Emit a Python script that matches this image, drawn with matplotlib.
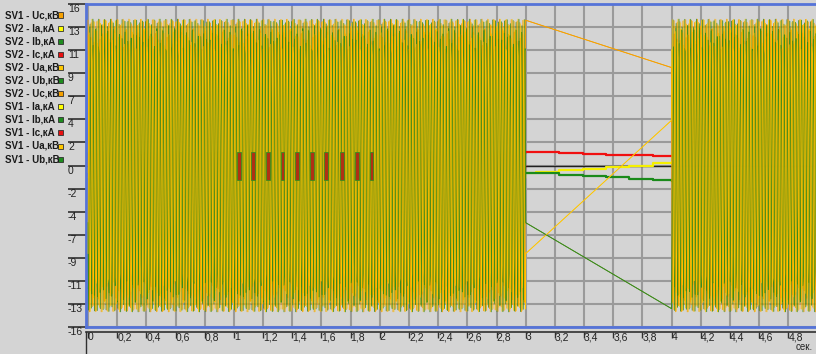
import numpy as np
import matplotlib.pyplot as plt
from matplotlib.patches import Rectangle

plt.rcParams['font.family'] = ['Liberation Sans', 'DejaVu Sans']

# легенда: подписи каналов и их цвета (сверху вниз)
names = ['SV1 - Uc,кВ', 'SV2 - Ia,кА', 'SV2 - Ib,кА', 'SV2 - Ic,кА', 'SV2 - Ua,кВ', 'SV2 - Ub,кВ',
         'SV2 - Uc,кВ', 'SV1 - Ia,кА', 'SV1 - Ib,кА', 'SV1 - Ic,кА', 'SV1 - Ua,кВ', 'SV1 - Ub,кВ']
box_colors = ['#F5A000', '#FFFF00', '#1E8C1E', '#E81010', '#FFC800', '#1E8C1E',
              '#F5A000', '#FFFF00', '#1E8C1E', '#E81010', '#FFC800', '#1E8C1E']

# шкала по оси Y (подписи округлены как в оригинале)
y_ticks = [16, 13.71, 11.43, 9.14, 6.86, 4.57, 2.29, 0, -2.29, -4.57, -6.86, -9.14, -11.43, -13.71, -16]
y_labels = ['16', '13', '11', '9', '7', '4', '2', '0', '-2', '-4', '-7', '-9', '-11', '-13', '-16']
x_ticks = [0, 0.2, 0.4, 0.6, 0.8, 1, 1.2, 1.4, 1.6, 1.8, 2, 2.2, 2.4, 2.6, 2.8, 3,
           3.2, 3.4, 3.6, 3.8, 4, 4.2, 4.4, 4.6, 4.8]

# параметры записи: два куска осциллограммы и разрыв между ними
seg_start = [0.0, 4.0]
seg_end = [3.0, 5.1]
freq = 50.0            # Гц
fs = 237.0             # точек в секунду
u_amp = 14.5           # кВ, амплитуда напряжений
i_amp = 1.4            # кА, амплитуда токов
# фаза Uc на концах разрыва, градусы (Uc=14.4 при 3 с, Uc=9.7 при 4 с)
uc_phase_at = [83.0, 138.0]
phase_shift = {'Uc': 0.0, 'Ua': -120.0, 'Ub': 120.0}
u_colors = {'Ub': '#3E8A1A', 'Ua': '#FFC600', 'Uc': '#F5A000'}
# сдвиг SV2 относительно SV1, с
sv_delay = {'SV1': 0.0, 'SV2': 0.0019}
# порядок рисования напряжений (снизу вверх) и толщина линий
u_order = [('SV2', 'Ua'), ('SV2', 'Uc'), ('SV2', 'Ub'), ('SV1', 'Uc'), ('SV1', 'Ub'), ('SV1', 'Ua')]
u_width = [0.6, 0.6, 0.6, 0.6, 0.6, 0.45]

# токи в разрыве 3..4 с (ступеньки)
gap_t = [3.0, 3.07, 3.23, 3.39, 3.55, 3.71, 3.87, 4.0]
gap_ic = [1.35, 1.3, 1.2, 1.1, 1.05, 1.0, 0.95, 0.95]
gap_ia = [-0.75, -0.6, -0.45, -0.3, -0.15, 0.0, 0.2, 0.35]
gap_ib = [-0.7, -0.75, -0.9, -1.0, -1.15, -1.3, -1.45, -1.5]

# всплески Ic между 1 и 2 с
burst_t = [1.02, 1.12, 1.22, 1.32, 1.42, 1.52, 1.62, 1.73, 1.83, 1.93]
burst_w = 0.026
burst_hi, burst_lo = 1.3, -1.4


def voltage(sv, name):
    tt, vv = [], []
    d = sv_delay[sv]
    for k in range(2):
        t = np.arange(seg_start[k] + d, seg_end[k] + 1e-9, 1.0 / fs)
        if k == 0:
            t = np.append(t[t < 3.0], 3.0)
            ref = 3.0
        else:
            t = np.insert(t, 0, 4.0)
            ref = 4.0
        ph = np.deg2rad(uc_phase_at[k] + phase_shift[name])
        tt.append(t)
        vv.append(u_amp * np.sin(2 * np.pi * freq * (t - ref) + ph))
    return np.concatenate(tt), np.concatenate(vv)


fig = plt.figure(figsize=(8.16, 3.54), dpi=100, facecolor='#D4D4D4')
ax = fig.add_axes([86 / 816, 27 / 354, 744 / 816, 323 / 354])
ax.set_facecolor('#D4D4D4')

# токи под напряжениями
for name, col, ph in [('Ib', '#1E8C1E', 120), ('Ia', '#FFFF00', -120), ('Ic', '#E81010', 0)]:
    t = np.arange(0, 3.0, 1.0 / fs)
    ax.plot(t, i_amp * np.sin(2 * np.pi * freq * t + np.deg2rad(ph)), color=col, lw=0.8, zorder=2)
ax.step(gap_t, gap_ic, where='post', color='#F01010', lw=1.6, zorder=3)
ax.step(gap_t, gap_ia, where='post', color='#F5F000', lw=1.6, zorder=3)
ax.step(gap_t, gap_ib, where='post', color='#1A8A1A', lw=1.6, zorder=3)
ax.axhline(0, color='#202020', lw=1, zorder=1.5)

for (sv, name), w in zip(u_order, u_width):
    t, v = voltage(sv, name)
    ax.plot(t, v, color=u_colors[name], lw=w, zorder=4)

for b in burst_t:
    ax.add_patch(Rectangle((b, burst_lo), burst_w, burst_hi - burst_lo,
                           facecolor='#B03015', edgecolor='#3C8C1E', lw=0.6, zorder=5))

ax.set_xlim(-2 / 145.9, 742 / 145.9)
ax.set_ylim(-16, 16)
ax.set_xticks(x_ticks)
ax.set_yticks(y_ticks)
ax.set_yticklabels(y_labels)
ax.grid(True, color='#9A9A9A', lw=1.5, zorder=0)
ax.set_axisbelow(True)
ax.tick_params(axis='x', length=0, labelbottom=False)
ax.tick_params(axis='y', length=13, width=1.2, color='#303030', pad=0, labelsize=7.5,
               labelcolor='#222222')
for lbl in ax.get_yticklabels():
    lbl.set_ha('left')
    lbl.set_va('top')
for s in ax.spines.values():
    s.set_color('#5573D8')
    s.set_linewidth(2)

# нижняя шкала времени
sec = ax.secondary_xaxis(-5 / 323)
sec.set_xticks(x_ticks)
sec.set_xticklabels([f'{v:g}'.replace('.', ',') for v in x_ticks])
sec.tick_params(length=4, width=1, color='#303030', pad=-4, labelsize=7.5, labelcolor='#222222')
for lbl in sec.get_xticklabels():
    lbl.set_ha('left')
sec.spines['bottom'].set_color('#303030')
sec.spines['bottom'].set_linewidth(1.2)
ax.plot([0, 0], [-5 / 323, -0.09], transform=ax.transAxes, color='#303030', lw=1, clip_on=False)
fig.text(813 / 816, 2 / 354, 'сек.', fontsize=7, color='#222222', ha='right', va='bottom')

# легенда слева
for i, (nm, c) in enumerate(zip(names, box_colors)):
    yc = 1 - (15 + 13.1 * i) / 354
    fig.text(5 / 816, yc, nm, fontsize=7, fontweight='bold', color='#1A1A1A', ha='left', va='center')
    fig.patches.append(Rectangle((58 / 816, yc - 2.5 / 354), 5 / 816, 5 / 354, transform=fig.transFigure,
                                 facecolor=c, edgecolor='#303030', lw=0.6))

fig.savefig('out.png', dpi=100, facecolor=fig.get_facecolor())
